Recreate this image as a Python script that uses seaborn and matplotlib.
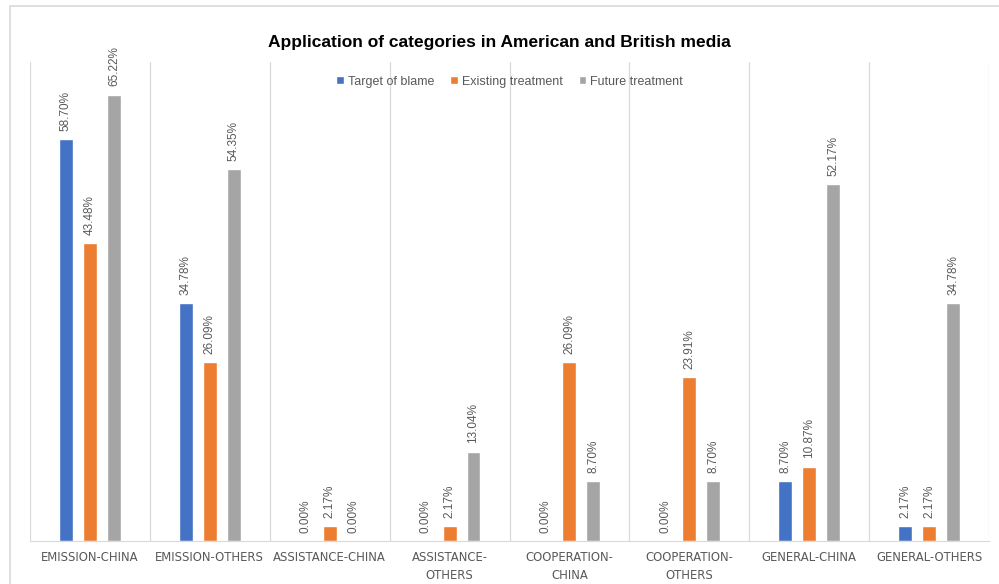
import matplotlib.pyplot as plt
import matplotlib.patches as mpatches
import seaborn as sns
import pandas as pd
import numpy as np

categories = ['EMISSION-CHINA', 'EMISSION-OTHERS', 'ASSISTANCE-CHINA', 'ASSISTANCE-\nOTHERS',
              'COOPERATION-\nCHINA', 'COOPERATION-\nOTHERS', 'GENERAL-CHINA', 'GENERAL-OTHERS']
series = ['Target of blame', 'Existing treatment', 'Future treatment']
target_of_blame = [58.70, 34.78, 0.00, 0.00, 0.00, 0.00, 8.70, 2.17]
existing_treatment = [43.48, 26.09, 2.17, 2.17, 26.09, 23.91, 10.87, 2.17]
future_treatment = [65.22, 54.35, 0.00, 13.04, 8.70, 8.70, 52.17, 34.78]
colors = ['#4472C4', '#ED7D31', '#A5A5A5']

sns.set_style("white")
plt.rcParams['font.family'] = ['Liberation Sans', 'DejaVu Sans']

df = pd.DataFrame({
    'Category': categories * 3,
    'Series': np.repeat(series, len(categories)),
    'Value': target_of_blame + existing_treatment + future_treatment,
})

fig = plt.figure(figsize=(9.99, 5.84), dpi=100)
# outer frame of the chart area
fig.patches.append(mpatches.Rectangle((10 / 999, -0.1), 1.1, 1.1 - 6 / 584, transform=fig.transFigure,
                                      fill=False, edgecolor='#D9D9D9', linewidth=1.2))
ax = fig.add_axes([30 / 999, 43 / 584, 959 / 999, 479 / 584])

sns.barplot(data=df, x='Category', y='Value', hue='Series', order=categories, hue_order=series,
            palette=colors, width=0.6, gap=0.42, saturation=1, ax=ax)

for cont in ax.containers:
    ax.bar_label(cont, labels=['%.2f%%' % v for v in cont.datavalues], rotation=90,
                 padding=6, fontsize=8.5, color='#595959')

ax.set_ylim(0, 70)
ax.set_xlim(-0.5, len(categories) - 0.5)
ax.set_yticks([])
ax.set_xlabel('')
ax.set_ylabel('')
ax.set_xticks(np.arange(-0.5, len(categories)), minor=True)
ax.grid(which='minor', axis='x', color='#D9D9D9', linewidth=0.9)
ax.tick_params(axis='x', which='both', length=0, pad=7, labelsize=8.4, labelcolor='#595959')
for lab in ax.get_xticklabels():
    lab.set_family('DejaVu Sans')
    lab.set_linespacing(1.55)
for s in ['top', 'left', 'right']:
    ax.spines[s].set_visible(False)
ax.spines['bottom'].set_color('#D9D9D9')

ax.legend(loc='upper center', bbox_to_anchor=(0.5, 0.995), ncol=3, frameon=False,
          fontsize=9, handlelength=0.6, handleheight=0.6, columnspacing=1.3, handletextpad=0.3,
          labelcolor='#595959')

fig.suptitle('Application of categories in American and British media', x=0.5, y=1 - 42 / 584,
             va='center', fontsize=12.5, fontweight='bold', color='black')

fig.savefig('out.png', dpi=100)
